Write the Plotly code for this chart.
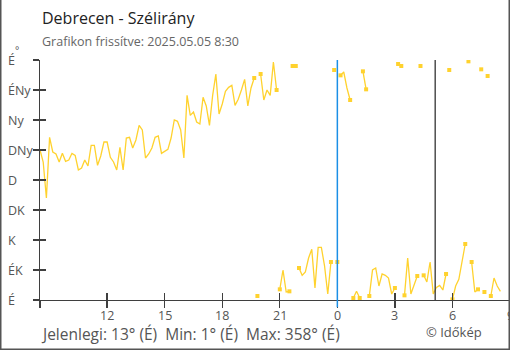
import plotly.graph_objects as go
from datetime import datetime, timedelta

# Wind direction (degrees), 10-minute readings from 2025-05-04 08:30
start_time = datetime(2025, 5, 4, 8, 30)
step_minutes = 10
direction = [
    225, 207, 153, 244, 222, 219, 207, 220, 208, 210,
    220, 217, 195, 198, 210, 201, 232, 232, 202, 216,
    237, 237, 214, 207, 195, 229, 195, 243, 244, 228,
    240, 262, 255, 213, 219, 228, 244, 246, 220, 223,
    226, 243, 270, 268, 255, 213, 307, 277, 282, 267,
    264, 304, 291, 262, 307, 339, 279, 294, 313, 319,
    322, 292, 301, 315, 331, 291, 318, 333, 6, 339,
    300, 315, 307, 357, 315, 16, 45, 12, 13, 351,
    351, 48, 37, 42, 63, 76, 18, 79, 79, 51,
    9, 57, 345, 57, 337, 342, 318, 300, 3, 13,
    3, 343, 316, 6, 45, 48, 21, 39, 37, 33,
    9, 18, 354, 351, 7, 63, 9, 22, 36, 351,
    37, 27, 57, 9, 19, 22, 15, 39, 345, 1,
    21, 31, 57, 84, 358, 57, 12, 16, 346, 12,
    336, 6, 33, 21, 13,
]
times = [start_time + timedelta(minutes=step_minutes * i) for i in range(len(direction))]

# Compass labels on the y axis
compass_labels = ["É", "ÉK", "K", "DK", "D", "DNy", "Ny", "ÉNy", "É"]
compass_degrees = [0, 45, 90, 135, 180, 225, 270, 315, 360]

# Hour ticks on the x axis
tick_times = [datetime(2025, 5, 4, 12), datetime(2025, 5, 4, 15), datetime(2025, 5, 4, 18),
              datetime(2025, 5, 4, 21), datetime(2025, 5, 5, 0), datetime(2025, 5, 5, 3),
              datetime(2025, 5, 5, 6), datetime(2025, 5, 5, 9)]
tick_text = ["12", "15", "18", "21", "0", "3", "6", "9"]

x_end = datetime(2025, 5, 5, 9, 0)
midnight = datetime(2025, 5, 5, 0, 0)
sunrise = datetime(2025, 5, 5, 5, 6)

LINE_COLOR = "#FFD22E"
AXIS_COLOR = "#3f3f3f"
TEXT_COLOR = "#555555"
FONT = "Open Sans"


def wraps(a, b):
    return abs(a - b) > 180


# Break the line where the direction crosses north; mark segment ends there
line_x, line_y, mark_x, mark_y = [], [], [], []
n = len(direction)
for i, v in enumerate(direction):
    left = i > 0 and wraps(direction[i - 1], v)
    right = i < n - 1 and wraps(v, direction[i + 1])
    if left:
        line_x.append(times[i])
        line_y.append(None)
    line_x.append(times[i])
    line_y.append(v)
    if left or right:
        mark_x.append(times[i])
        mark_y.append(v)


def compass_name(deg):
    return compass_labels[int(round(deg / 45.0)) % 8]


current = direction[-1]
dmin = min(direction)
dmax = max(direction)
nb = "\u00a0"
summary = (f"Jelenlegi: {current}° ({compass_name(current)}){nb}{nb}"
           f"Min: {dmin}° ({compass_name(dmin)}){nb}{nb}"
           f"Max: {dmax}° ({compass_name(dmax)})")

fig = go.Figure()
fig.add_trace(go.Scatter(x=line_x, y=line_y, mode="lines", line=dict(color=LINE_COLOR, width=1.3),
                         connectgaps=False, hoverinfo="skip", showlegend=False))
fig.add_trace(go.Scatter(x=mark_x, y=mark_y, mode="markers",
                         marker=dict(symbol="square", size=4, color=LINE_COLOR, line=dict(width=0)),
                         hoverinfo="skip", showlegend=False))
# Empty trace carrying the inner-tick overlay axes
fig.add_trace(go.Scatter(x=[None], y=[None], xaxis="x2", yaxis="y2", showlegend=False, hoverinfo="skip"))

W, H = 510, 350
ML, MT, MB, MR = 40, 60, 50, 0
PW, PH = W - ML - MR, H - MT - MB


def px_x(px):
    return (px - ML) / PW


def px_y(py):
    return (MT + PH - py) / PH


shapes = [
    dict(type="line", xref="x", yref="paper", x0=midnight, x1=midnight, y0=-0.03, y1=1,
         line=dict(color="#1B8FE6", width=1.5), layer="above"),
    dict(type="line", xref="x", yref="paper", x0=sunrise, x1=sunrise, y0=0, y1=1,
         line=dict(color="#333333", width=1.3), layer="above"),
    # outer frame
    dict(type="path", xref="paper", yref="paper",
         path=f"M {px_x(0.75)} {px_y(0.0)} L {px_x(0.75)} {px_y(349.25)} "
              f"L {px_x(509.25)} {px_y(349.25)} L {px_x(509.25)} {px_y(0.0)}",
         line=dict(color="#555555", width=1.5)),
]

annotations = []
for lab, deg in zip(compass_labels, compass_degrees):
    annotations.append(dict(text=lab, xref="paper", yref="y", x=px_x(6), y=deg, xanchor="left",
                            yanchor="middle", showarrow=False, font=dict(family=FONT, size=12.5, color=TEXT_COLOR)))
for lab, t in zip(tick_text, tick_times):
    annotations.append(dict(text=lab, xref="x", yref="paper", x=t, y=px_y(315), xanchor="center",
                            yanchor="middle", showarrow=False, borderpad=0,
                            font=dict(family=FONT, size=12.5, color=TEXT_COLOR)))
annotations += [
    dict(text="°", xref="paper", yref="paper", x=px_x(12.5), y=px_y(50), xanchor="left", yanchor="middle",
         showarrow=False, font=dict(family=FONT, size=10, color=TEXT_COLOR)),
    dict(text="Debrecen - Szélirány", xref="paper", yref="paper", x=0, y=px_y(18), xanchor="left",
         yanchor="middle", showarrow=False, font=dict(family=FONT, size=16, color="#222222")),
    dict(text="Grafikon frissítve: 2025.05.05 8:30", xref="paper", yref="paper", x=0, y=px_y(41),
         xanchor="left", yanchor="middle", showarrow=False, font=dict(family=FONT, size=12.5, color="#666666")),
    dict(text=summary, xref="paper", yref="paper", x=0, y=px_y(334), xanchor="left", yanchor="middle",
         showarrow=False, borderpad=0, font=dict(family=FONT, size=15.5, color=TEXT_COLOR)),
    dict(text="© Időkép", xref="paper", yref="paper", x=px_x(424), y=px_y(332), xanchor="left",
         yanchor="middle", showarrow=False, font=dict(family=FONT, size=13, color=TEXT_COLOR)),
]

x_ticks = [start_time] + tick_times
common_x = dict(type="date", range=[start_time, x_end], tickmode="array", tickvals=x_ticks,
                ticklen=7, tickwidth=1.3, tickcolor=AXIS_COLOR, showgrid=False, zeroline=False,
                fixedrange=True, showticklabels=False)
common_y = dict(range=[0, 360], tickmode="array", tickvals=compass_degrees, ticklen=6, tickwidth=1.3,
                tickcolor=AXIS_COLOR, showgrid=False, zeroline=False, fixedrange=True, showticklabels=False)

fig.update_layout(
    width=W, height=H,
    margin=dict(l=ML, r=MR, t=MT, b=MB),
    paper_bgcolor="white", plot_bgcolor="white",
    font=dict(family=FONT, color=TEXT_COLOR),
    xaxis=dict(**common_x, ticks="outside", showline=True, linecolor=AXIS_COLOR, linewidth=1.3),
    yaxis=dict(**common_y, ticks="outside", showline=True, linecolor=AXIS_COLOR, linewidth=1.3),
    xaxis2=dict(**common_x, overlaying="x", anchor="y2", side="bottom", ticks="inside", showline=False),
    yaxis2=dict(**common_y, overlaying="y", anchor="x2", side="left", ticks="inside", showline=False),
    shapes=shapes,
    annotations=annotations,
    showlegend=False,
)

fig.write_html("out.html", config={"displayModeBar": False, "staticPlot": True})
